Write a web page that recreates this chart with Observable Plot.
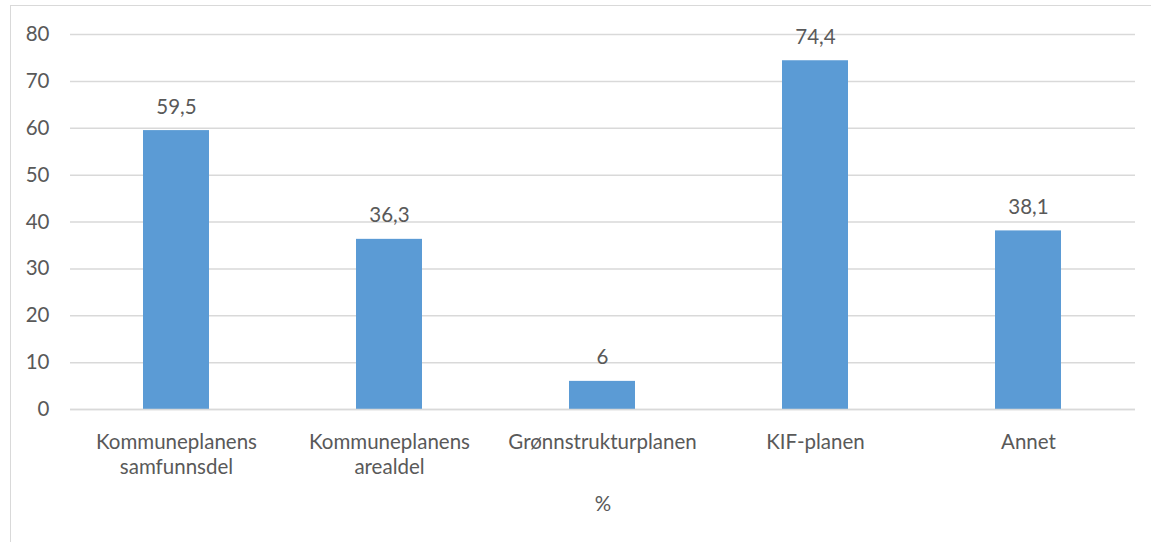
<!DOCTYPE html>
<html>
<head>
<meta charset="utf-8">
<script src="https://cdn.jsdelivr.net/npm/d3@7"></script>
<script src="https://cdn.jsdelivr.net/npm/@observablehq/plot@0.6"></script>
<style>
  html, body { margin: 0; padding: 0; background: #fff; overflow: hidden; }
  #wrap { position: relative; width: 1151px; height: 542px; }
  #frame { position: absolute; left: 10px; top: 5px; width: 1150px; height: 560px; border: 1.5px solid #d9d9d9; box-sizing: border-box; }
  #chart { position: absolute; left: 0; top: 0; }
</style>
</head>
<body>
<div id="wrap">
  <div id="frame"></div>
  <div id="chart"></div>
</div>
<script>
const categories = ["Kommuneplanens samfunnsdel", "Kommuneplanens arealdel", "Grønnstrukturplanen", "KIF-planen", "Annet"];
const categoryLabels = ["Kommuneplanens\nsamfunnsdel", "Kommuneplanens\narealdel", "Grønnstrukturplanen", "KIF-planen", "Annet"];
const values = [59.5, 36.3, 6, 74.4, 38.1];
const valueLabels = ["59,5", "36,3", "6", "74,4", "38,1"];
const yTicks = [0, 10, 20, 30, 40, 50, 60, 70, 80];
const xTitle = "%";

const data = categories.map((c, i) => ({category: c, label: categoryLabels[i], value: values[i], valueLabel: valueLabels[i]}));

const textColor = "#595959";
const chart = Plot.plot({
  width: 1151,
  height: 542,
  marginLeft: 70,
  marginRight: 16,
  marginTop: 34,
  marginBottom: 133,
  style: {fontFamily: "Lato, 'Open Sans', sans-serif", fontSize: "20.5px", color: textColor, background: "transparent"},
  x: {domain: categories, paddingInner: 0.69, paddingOuter: 0.345, axis: null},
  y: {domain: [0, 80], axis: null},
  marks: [
    Plot.gridY(yTicks, {stroke: "#d9d9d9", strokeOpacity: 1, strokeWidth: 1.5}),
    Plot.text(yTicks, {y: d => d, frameAnchor: "left", text: d => String(d), textAnchor: "end", dx: -21, lineAnchor: "middle", fill: textColor}),
    Plot.barY(data, {x: "category", y: "value", fill: "#5B9BD5"}),
    Plot.ruleY([0], {stroke: "#d9d9d9", strokeWidth: 1.5}),
    Plot.text(data, {x: "category", y: "value", text: "valueLabel", lineAnchor: "bottom", dy: -17, fill: textColor}),
    Plot.text(data, {x: "category", frameAnchor: "bottom", text: "label", lineAnchor: "top", dy: 22, lineHeight: 1.2, fill: textColor}),
    Plot.text([xTitle], {frameAnchor: "bottom", text: d => d, lineAnchor: "bottom", dy: 101, fill: textColor})
  ]
});
document.getElementById("chart").appendChild(chart);
</script>
</body>
</html>
